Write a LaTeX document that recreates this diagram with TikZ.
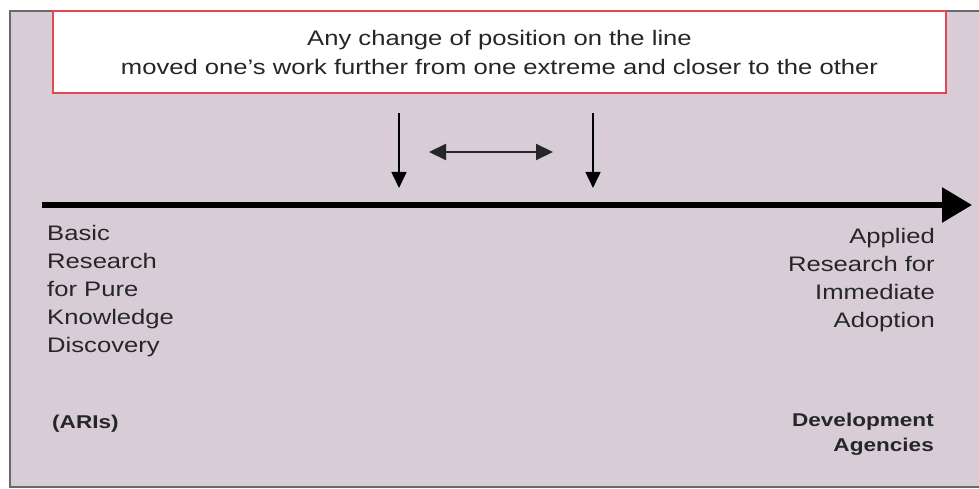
\documentclass[tikz,border=0pt]{standalone}
\usepackage{fontspec}
\setmainfont{Liberation Sans}[FakeStretch=1.22]
\usetikzlibrary{arrows.meta}
\definecolor{panel}{RGB}{216,205,214}
\definecolor{boxred}{RGB}{226,72,82}
\definecolor{edge}{RGB}{105,105,105}
\definecolor{txt}{RGB}{38,38,38}
\tikzset{
  lbl/.style={inner sep=0pt, text=txt, font=\fontsize{21}{28}\selectfont},
  blbl/.style={inner sep=0pt, text=txt, font=\bfseries\fontsize{18.5}{25}\selectfont},
  thinarrow/.style={draw=black, line width=1.6pt, -{Triangle[length=16pt,width=15pt]}},
  dblarrow/.style={draw=black!85, line width=2pt, {Triangle[length=17pt,width=16pt]}-{Triangle[length=17pt,width=16pt]}},
  mainarrow/.style={draw=black, line width=6pt, -{Triangle[length=30pt,width=34pt]}}
}
\begin{document}
\begin{tikzpicture}[x=1pt,y=-1pt]
\useasboundingbox (0,0) rectangle (979,489);
% background panel
\fill[panel] (10,11) rectangle (979,487);
\draw[edge, line width=2.5pt] (979,11) -- (10,11) -- (10,487) -- (979,487);
% note box
\node[draw=boxred, line width=2pt, fill=white, minimum width=893pt, minimum height=82pt, inner sep=0pt,
      align=center, text=txt, font=\fontsize{21}{29}\selectfont] (note) at (499.5,52)
  {Any change of position on the line\\moved one's work further from one extreme and closer to the other};
% arrows
\coordinate (la1) at (399,113);
\coordinate (la2) at (399,188);
\coordinate (ra1) at (593,113);
\coordinate (ra2) at (593,188);
\coordinate (d1) at (429,152);
\coordinate (d2) at (553,152);
\coordinate (ms) at (42,205);
\coordinate (me) at (972,205);
\draw[thinarrow] (la1) -- (la2);
\draw[thinarrow] (ra1) -- (ra2);
\draw[dblarrow] (d1) -- (d2);
\draw[mainarrow] (ms) -- (me);
% labels
\node[lbl, anchor=north west, align=left] (basic) at (47,225)
  {Basic\\Research\\for Pure\\Knowledge\\Discovery};
\node[lbl, anchor=north east, align=right] (applied) at (935,228)
  {Applied\\Research for\\Immediate\\Adoption};
\node[blbl, anchor=north west] (aris) at (52,415) {(ARIs)};
\node[blbl, anchor=north east, align=right] (dev) at (934,413) {Development\\Agencies};
\end{tikzpicture}
\end{document}
